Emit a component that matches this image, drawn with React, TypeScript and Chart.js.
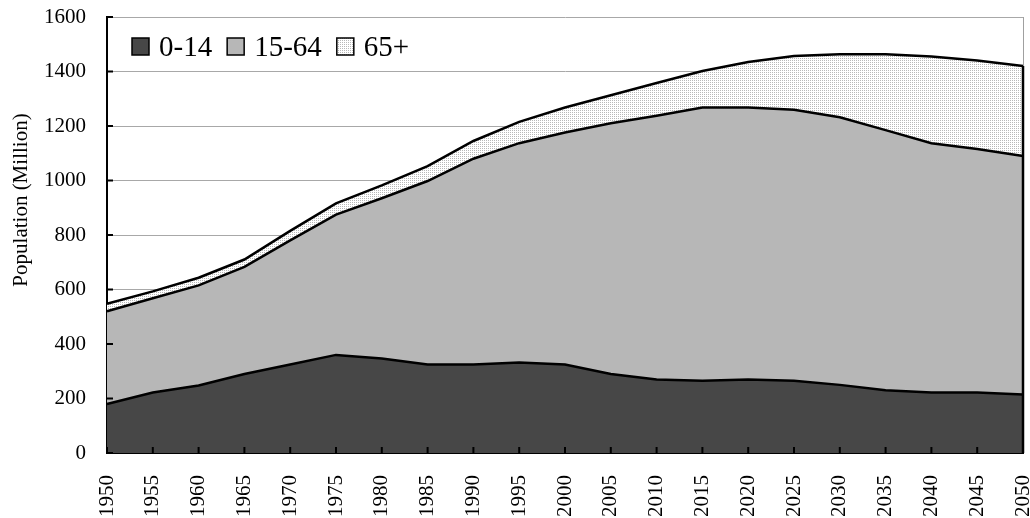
import React, { useEffect, useRef } from "react";
import { Chart, registerables } from "chart.js";

Chart.register(...registerables);

const years = ["1950","1955","1960","1965","1970","1975","1980","1985","1990","1995","2000","2005","2010","2015","2020","2025","2030","2035","2040","2045","2050"];
const age0to14 = [180,222,248,290,325,360,347,325,325,332,325,290,270,265,270,265,250,230,222,222,215];
const age15to64 = [340,346,367,393,455,515,588,673,755,805,851,920,968,1003,998,995,982,955,915,894,875];
const age65plus = [28,25,28,27,35,41,47,55,65,78,92,103,120,134,167,197,231,278,318,324,330];
const legendLabels = ["0-14", "15-64", "65+"];
const yTitle = "Population (Million)";
const yMax = 1600;
const yStep = 200;

const FONT = "'Liberation Serif', 'Times New Roman', serif";

function makeDots(): CanvasPattern | string {
  const c = document.createElement("canvas");
  c.width = 2;
  c.height = 2;
  const g = c.getContext("2d");
  if (!g) return "#eeeeee";
  g.fillStyle = "#ffffff";
  g.fillRect(0, 0, 2, 2);
  g.fillStyle = "#b8b8b8";
  g.fillRect(0, 0, 1, 1);
  const p = g.createPattern(c, "repeat");
  return p || "#eeeeee";
}

export default function App() {
  const ref = useRef<HTMLCanvasElement | null>(null);

  useEffect(() => {
    document.body.style.margin = "0";
    const canvas = ref.current;
    if (!canvas) return;
    const dots = makeDots();
    const fills: any[] = ["#474747", "#b7b7b7", dots];

    const decor = {
      id: "decor",
      afterDatasetsDraw(chart: any) {
        const { ctx, chartArea } = chart;
        const xs = chart.scales.x;
        const ys = chart.scales.y;
        ctx.save();
        const meta = chart.getDatasetMeta(2);
        const last = meta.data[meta.data.length - 1];
        ctx.strokeStyle = "#000";
        ctx.lineWidth = 2.5;
        ctx.beginPath();
        ctx.moveTo(chartArea.right, last.y);
        ctx.lineTo(chartArea.right, chartArea.bottom);
        ctx.stroke();
        ctx.lineWidth = 2;
        ys.ticks.forEach((t: any) => {
          const y = ys.getPixelForValue(t.value);
          ctx.beginPath();
          ctx.moveTo(chartArea.left, y);
          ctx.lineTo(chartArea.left + 6, y);
          ctx.stroke();
        });
        years.forEach((_y, i) => {
          const x = xs.getPixelForValue(i);
          ctx.beginPath();
          ctx.moveTo(x, chartArea.bottom);
          ctx.lineTo(x, chartArea.bottom - 6);
          ctx.stroke();
        });
        // legend
        ctx.font = `29px ${FONT}`;
        ctx.textBaseline = "middle";
        ctx.textAlign = "left";
        let lx = chartArea.left + 25;
        const ly = 47;
        legendLabels.forEach((lab, i) => {
          ctx.fillStyle = fills[i];
          ctx.fillRect(lx, ly - 9, 17, 17);
          ctx.strokeStyle = "#000";
          ctx.lineWidth = 1.5;
          ctx.strokeRect(lx, ly - 9, 17, 17);
          ctx.fillStyle = "#000";
          ctx.fillText(lab, lx + 27, ly + 1);
          lx += 27 + ctx.measureText(lab).width + 15;
        });
        // y axis title
        ctx.translate(21, 200);
        ctx.rotate(-Math.PI / 2);
        ctx.font = `21px ${FONT}`;
        ctx.textAlign = "center";
        ctx.textBaseline = "middle";
        ctx.fillText(yTitle, 0, 0);
        ctx.restore();
      },
    };

    const chart = new Chart(canvas, {
      type: "line",
      data: {
        labels: years,
        datasets: [
          { label: legendLabels[0], data: age0to14, backgroundColor: fills[0], borderColor: "#000", borderWidth: 2.5, fill: "origin", pointRadius: 0, tension: 0 },
          { label: legendLabels[1], data: age15to64, backgroundColor: fills[1], borderColor: "#000", borderWidth: 2.5, fill: "-1", pointRadius: 0, tension: 0 },
          { label: legendLabels[2], data: age65plus, backgroundColor: fills[2], borderColor: "#000", borderWidth: 2.5, fill: "-1", pointRadius: 0, tension: 0 },
        ],
      },
      options: {
        animation: false,
        responsive: false,
        maintainAspectRatio: false,
        layout: { padding: { top: 17, right: 7, left: 0, bottom: 0 } },
        plugins: { legend: { display: false }, tooltip: { enabled: false } },
        scales: {
          x: {
            offset: false,
            grid: {
              display: true,
              drawTicks: false,
              color: (c: any) => (c.index === years.length - 1 ? "#a0a0a0" : "rgba(0,0,0,0)"),
            },
            border: { display: true, color: "#000", width: 2 },
            ticks: {
              autoSkip: false,
              minRotation: 90,
              maxRotation: 90,
              padding: 22,
              color: "#000",
              font: { family: FONT, size: 21 },
            },
            afterFit: (s: any) => {
              s.height = 65;
              s.paddingLeft = 0;
              s.paddingRight = 0;
            },
          },
          y: {
            stacked: true,
            min: 0,
            max: yMax,
            grid: {
              drawTicks: false,
              color: (c: any) => (c.tick && c.tick.value === 0 ? "rgba(0,0,0,0)" : "#a8a8a8"),
              lineWidth: 1,
            },
            border: { display: true, color: "#000", width: 2 },
            ticks: {
              stepSize: yStep,
              padding: 21,
              color: "#000",
              font: { family: FONT, size: 21 },
              callback: (v: any) => String(v),
            },
            afterFit: (s: any) => {
              s.width = 107;
              s.paddingTop = 0;
              s.paddingBottom = 0;
            },
          },
        },
      },
      plugins: [decor],
    });
    return () => chart.destroy();
  }, []);

  return (
    <div style={{ width: 1030, height: 518 }}>
      <canvas ref={ref} width={1030} height={518} style={{ display: "block" }} />
    </div>
  );
}
